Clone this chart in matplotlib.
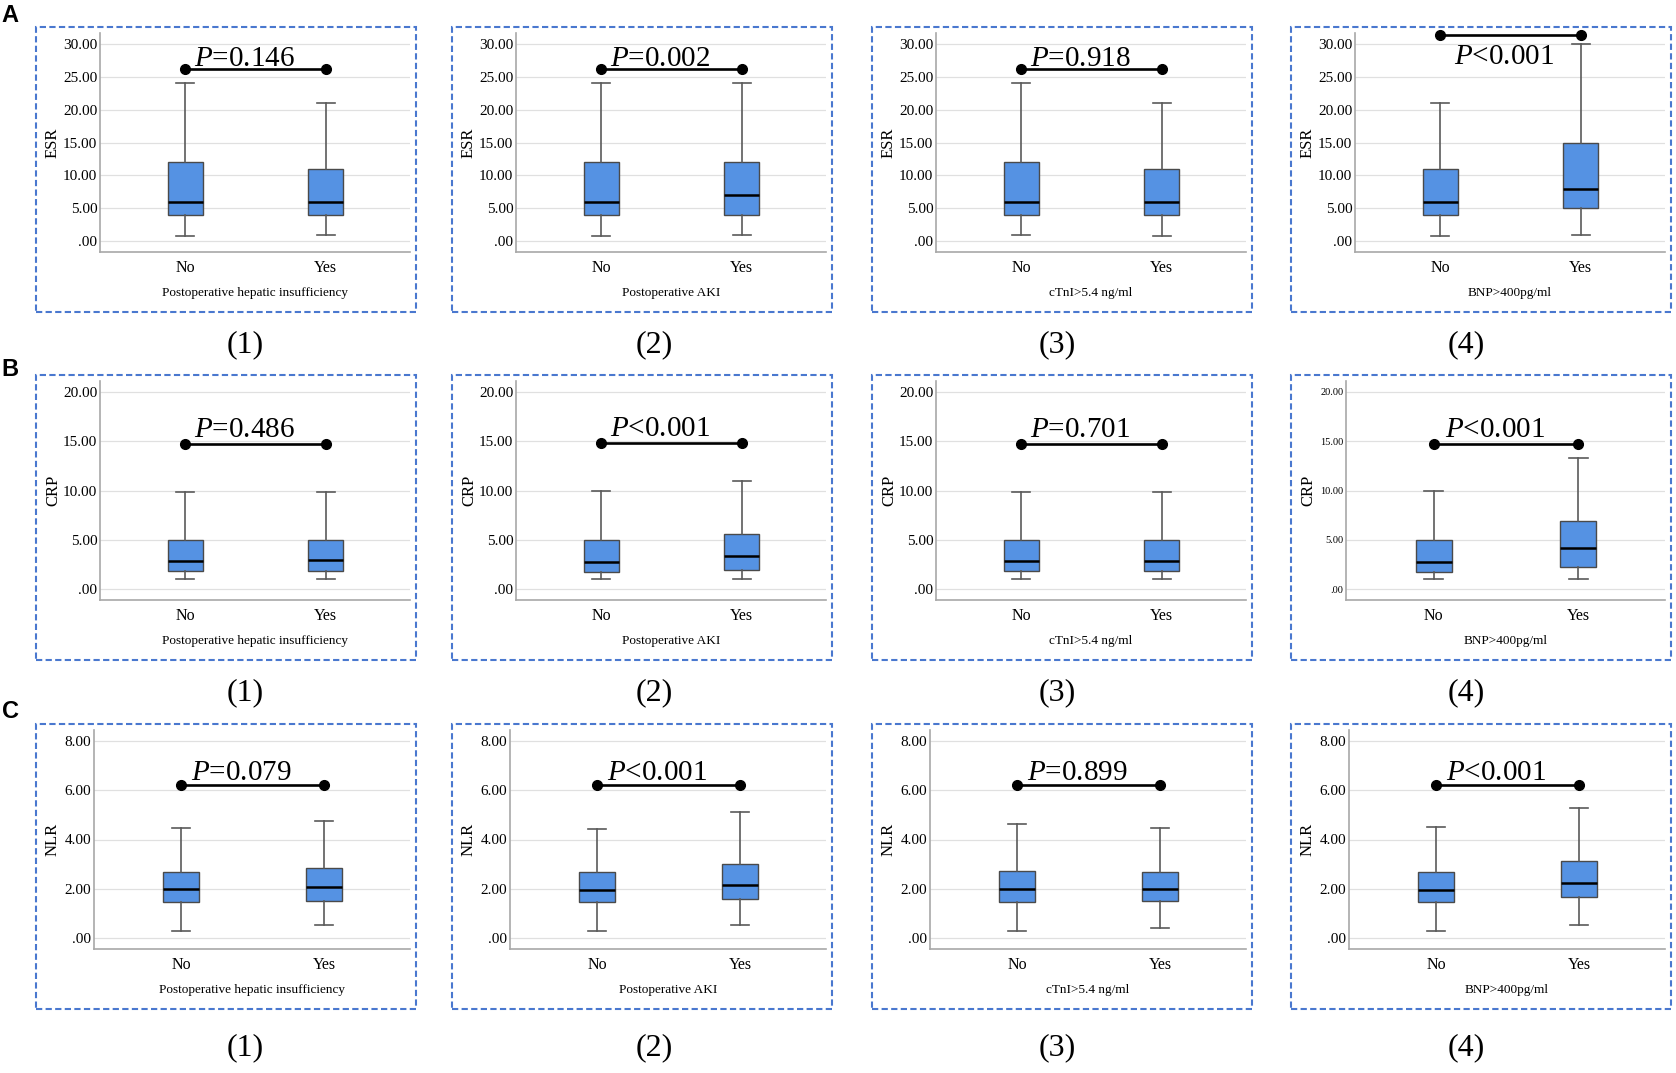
import matplotlib
matplotlib.use("Agg")
import matplotlib.pyplot as plt
from matplotlib.patches import Rectangle

plt.rcParams["font.family"] = ["Liberation Serif", "DejaVu Serif"]
plt.rcParams["mathtext.fontset"] = "custom"
plt.rcParams["mathtext.it"] = "Liberation Serif:italic"
plt.rcParams["mathtext.rm"] = "Liberation Serif"

# ---- data -----------------------------------------------------------
groups = ["No", "Yes"]
outcomes = ["Postoperative hepatic insufficiency", "Postoperative AKI",
            "cTnI>5.4 ng/ml", "BNP>400pg/ml"]
panel_tags = ["(1)", "(2)", "(3)", "(4)"]
row_tags = ["A", "B", "C"]
markers = ["ESR", "CRP", "NLR"]

# whisker low, Q1, median, Q3, whisker high (one tuple per outcome)
esr_no = [(0.8, 4, 6, 12, 24), (0.8, 4, 6, 12, 24), (1.0, 4, 6, 12, 24), (0.8, 4, 6, 11, 21)]
esr_yes = [(1.0, 4, 6, 11, 21), (1.0, 4, 7, 12, 24), (0.8, 4, 6, 11, 21), (1.0, 5, 8, 15, 30)]
crp_no = [(1.0, 1.82, 2.83, 5.0, 9.8), (1.0, 1.72, 2.73, 5.0, 9.9),
          (1.0, 1.83, 2.84, 5.0, 9.85), (1.0, 1.72, 2.73, 5.0, 9.95)]
crp_yes = [(1.0, 1.82, 2.93, 5.0, 9.8), (1.0, 1.99, 3.34, 5.63, 10.93),
           (1.0, 1.83, 2.84, 5.0, 9.85), (1.0, 2.23, 4.22, 6.91, 13.25)]
nlr_no = [(0.28, 1.48, 1.98, 2.69, 4.45), (0.28, 1.48, 1.97, 2.67, 4.44),
          (0.28, 1.48, 2.01, 2.74, 4.63), (0.28, 1.46, 1.97, 2.67, 4.49)]
nlr_yes = [(0.54, 1.52, 2.09, 2.83, 4.76), (0.54, 1.57, 2.17, 3.0, 5.11),
           (0.43, 1.52, 2.0, 2.7, 4.45), (0.54, 1.67, 2.25, 3.12, 5.26)]

esr_p = ["=0.146", "=0.002", "=0.918", "<0.001"]
crp_p = ["=0.486", "<0.001", "=0.701", "<0.001"]
nlr_p = ["=0.079", "<0.001", "=0.899", "<0.001"]

esr_ticks = [0, 5, 10, 15, 20, 25, 30]
crp_ticks = [0, 5, 10, 15, 20]
nlr_ticks = [0, 2, 4, 6, 8]

# height of the comparison bracket
esr_bar = [26.2, 26.2, 26.2, 31.4]
crp_bar = [14.7, 14.85, 14.7, 14.75]
nlr_bar = [6.2, 6.2, 6.2, 6.2]

rows = [
    (esr_no, esr_yes, esr_p, esr_ticks, esr_bar),
    (crp_no, crp_yes, crp_p, crp_ticks, crp_bar),
    (nlr_no, nlr_yes, nlr_p, nlr_ticks, nlr_bar),
]

# ---- layout (pixels) ------------------------------------------------
W, H = 1676, 1073
frame_x = [36, 452, 872, 1291]
frame_w, frame_h = 380, 285
frame_top = [27, 375, 724]
axes_top = [33, 381, 730]
axes_h = 219
axes_off = [64, 64, 58]
tag_x = [245, 654, 1057, 1466]
tag_y = [345, 693, 1048]
row_tag_y = [15, 370, 712]
p_gap = [3, 7, 5]

BOX_BLUE = "#5592E3"
FRAME_BLUE = "#4A78CF"


def tick_fmt(v):
    s = f"{v:.2f}"
    return s[1:] if s.startswith("0") else s


fig = plt.figure(figsize=(W / 100, H / 100), dpi=100)

for r, (no_stats, yes_stats, pvals, ticks, bars) in enumerate(rows):
    fig.text(10 / W, 1 - row_tag_y[r] / H, row_tags[r], family="Liberation Sans",
             fontweight="bold", fontsize=17, ha="center", va="center")
    for c in range(4):
        # dashed frame around each panel
        fig.add_artist(Rectangle((frame_x[c] / W, 1 - (frame_top[r] + frame_h) / H),
                                 frame_w / W, frame_h / H, transform=fig.transFigure,
                                 fill=False, edgecolor=FRAME_BLUE, lw=1.5,
                                 linestyle=(0, (3, 1.6))))
        fig.text(tag_x[c] / W, 1 - tag_y[r] / H, panel_tags[c], fontsize=23,
                 ha="center", va="center")

        off = axes_off[r]
        tsize = 11
        if r == 1 and c == 3:
            off, tsize = 55, 7.5
        left = frame_x[c] + off
        width = frame_x[c] + 374 - left
        ax = fig.add_axes([left / W, 1 - (axes_top[r] + axes_h) / H, width / W, axes_h / H])

        stats = []
        for g, s in zip(groups, (no_stats[c], yes_stats[c])):
            stats.append(dict(label=g, whislo=s[0], q1=s[1], med=s[2], q3=s[3],
                              whishi=s[4], fliers=[]))
        ax.bxp(stats, positions=[0, 1], widths=0.25, capwidths=0.13,
               showfliers=False, patch_artist=True,
               boxprops=dict(facecolor=BOX_BLUE, edgecolor="#4a4a4a", lw=1.0),
               whiskerprops=dict(color="#5a5a5a", lw=1.2),
               capprops=dict(color="#5a5a5a", lw=1.2),
               medianprops=dict(color="black", lw=1.8))

        span = ticks[-1] - ticks[0]
        ax.set_ylim(ticks[0] - 0.055 * span, ticks[-1] + 0.055 * span)
        ax.set_xlim(-0.607, 1.6)
        ax.set_yticks(ticks)
        ax.set_yticklabels([tick_fmt(t) for t in ticks])
        ax.set_xticks([0, 1])
        ax.set_xticklabels(groups)
        ax.tick_params(axis="y", length=0, pad=2, labelsize=tsize)
        ax.tick_params(axis="x", length=0, pad=6, labelsize=11.5)
        ax.grid(axis="y", color="#e0e0e0", lw=0.9)
        ax.set_axisbelow(True)
        for side in ("top", "right"):
            ax.spines[side].set_visible(False)
        for side in ("left", "bottom"):
            ax.spines[side].set_color("#a8a8a8")
            ax.spines[side].set_linewidth(1.2)

        ax.set_ylabel(markers[r], fontsize=12)
        ax.yaxis.set_label_coords((frame_x[c] + 17 - left) / width, 0.5)
        ax.yaxis.label.set_va("center")
        ax.set_xlabel(outcomes[c], fontsize=9.5)
        ax.xaxis.set_label_coords(0.5, -41 / axes_h)
        ax.xaxis.label.set_va("center")

        # comparison bracket with p-value
        h = bars[c]
        ax.plot([0, 1], [h, h], color="black", lw=1.9, marker="o", ms=7,
                clip_on=False, zorder=6)
        label = r"$P$" + pvals[c]
        if r == 0 and c == 3:
            ax.annotate(label, xy=(0.5, h), xytext=(-6, -29), textcoords="offset pixels",
                        ha="center", va="baseline", fontsize=21)
        else:
            ax.annotate(label, xy=(0.5, h), xytext=(-11, p_gap[r]),
                        textcoords="offset pixels", ha="center", va="baseline",
                        fontsize=21)

fig.savefig("out.png", dpi=100)
